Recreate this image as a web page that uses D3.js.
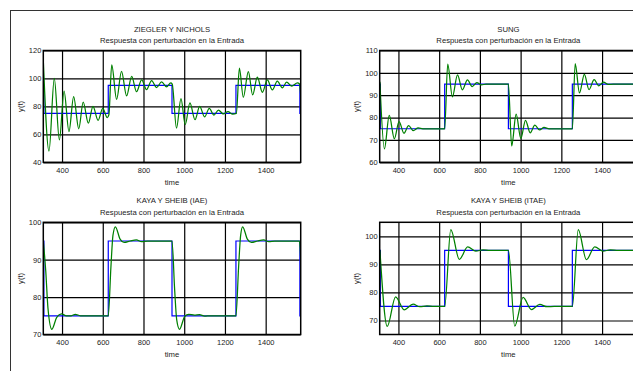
<!DOCTYPE html>
<html>
<head>
<meta charset="utf-8">
<script src="https://cdn.jsdelivr.net/npm/d3@7"></script>
<style>
  body { margin: 0; background: #fff; }
  svg { display: block; font-family: 'Liberation Sans', Arial, sans-serif; }
</style>
</head>
<body>
<div id="chart"></div>
<script>
// shared time axis
const timeDomain = [308, 1572];
const timeTicks = [400, 600, 800, 1000, 1200, 1400];

// setpoint (blue square wave)
const stepTimes = [308, 311, 627, 940, 1254, 1568, 1572];
const stepLevels = [95, 75, 95, 75, 95, 75, 75];

// ZIEGLER Y NICHOLS response
const znTime = [308, 336, 362, 387, 410, 434, 457, 482, 504, 529, 552, 577, 600, 622, 630, 644, 668, 692, 717, 742, 766, 791, 815, 840, 864, 889, 913, 934, 941, 962, 984, 1005, 1028, 1053, 1076, 1100, 1123, 1146, 1168, 1192, 1215, 1238, 1256, 1271, 1290, 1315, 1336, 1359, 1384, 1408, 1433, 1457, 1482, 1503, 1528, 1556, 1566, 1572];
const znY = [113, 48, 100, 56, 91, 62, 87, 64, 83, 68, 80, 70, 78.6, 72, 74, 109.7, 85, 105, 87.5, 101.5, 90.5, 99, 92, 98.5, 93.5, 97.5, 94, 96.8, 96, 64.4, 85.5, 67, 82.5, 70.5, 80, 72.5, 78.6, 73.8, 77.4, 74.6, 76.2, 74.5, 75, 107.3, 86.5, 104.9, 88.2, 100.9, 90.1, 98.9, 91.8, 98, 93.3, 97.3, 94.5, 96.8, 96, 88];
const znTicks = [40, 60, 80, 100, 120];

// SUNG response
const sungTime = [309, 331, 355, 380, 403, 427, 450, 473, 497, 520, 627, 642, 665, 690, 714, 739, 762, 785, 808, 830, 940, 956, 978, 1001, 1024, 1047, 1070, 1093, 1115, 1140, 1254, 1268, 1289, 1313, 1336, 1361, 1384, 1407, 1430, 1455, 1572];
const sungY = [96, 66, 81, 70.5, 78.2, 73, 76.4, 74.2, 75.4, 75, 75, 103.9, 89.3, 99.1, 92.4, 96.9, 93.9, 95.6, 94.6, 95, 95, 67.3, 81.5, 70.7, 78.8, 73.2, 76.6, 74.5, 75.6, 75, 75, 104.1, 91, 99.3, 92.5, 97, 94.2, 95.9, 94.8, 95, 95];
const sungTicks = [60, 70, 80, 90, 100, 110];

// KAYA Y SHEIB (IAE) response
const iaeTime = [308, 320, 331, 350, 374, 397, 422, 445, 465, 490, 627, 640, 650, 662, 685, 705, 735, 765, 790, 820, 940, 953, 963, 977, 1002, 1022, 1050, 1075, 1100, 1130, 1254, 1267, 1277, 1287, 1310, 1330, 1360, 1390, 1415, 1445, 1566, 1572];
const iaeY = [95, 87, 77, 71.4, 74.6, 75.5, 75, 75, 75.4, 75, 75, 88, 96.5, 98.8, 95.5, 94.6, 95, 95.3, 94.8, 95, 95, 82, 74, 71.4, 74.8, 75.4, 75.2, 75.3, 74.9, 75, 75, 88, 96.5, 98.8, 95.5, 94.6, 95, 95.3, 94.8, 95, 95, 90];
const iaeTicks = [70, 80, 90, 100];

// KAYA Y SHEIB (ITAE) response
const itaeTime = [309, 345, 386, 428, 472, 505, 540, 575, 627, 657, 699, 740, 780, 815, 850, 940, 971, 1012, 1053, 1094, 1130, 1165, 1254, 1283, 1323, 1364, 1405, 1440, 1480, 1572];
const itaeY = [95, 67.9, 78.4, 73.8, 75.8, 74.9, 75.2, 75, 75, 102.4, 91.8, 96.2, 94.7, 95.2, 95, 95, 68, 78.2, 73.9, 75.7, 74.9, 75, 75, 102.4, 91.7, 96.2, 94.7, 95.2, 95, 95];
const itaeTicks = [70, 80, 90, 100];

const subtitle = 'Respuesta con perturbación en la Entrada';

const svg = d3.select('#chart')
  .append('svg')
    .attr('width', 633)
    .attr('height', 371);

// figure frame
svg.append('rect')
  .attr('x', 10.5)
  .attr('y', 10.5)
  .attr('width', 700)
  .attr('height', 400)
  .attr('fill', 'none')
  .attr('stroke', '#333')
  .attr('stroke-width', 1);

function drawPanel(p) {
  const w = 257.4;
  const h = p.height;

  const x = d3.scaleLinear().domain(timeDomain).range([0, w]);
  const y = d3.scaleLinear().domain(p.yDomain).range([h, 0]);

  const g = svg.append('g')
    .attr('transform', `translate(${p.left}, ${p.top})`);

  g.append('clipPath')
    .attr('id', `clip-${p.id}`)
    .append('rect')
      .attr('width', w)
      .attr('height', h);

  // x grid + labels
  g.append('g')
    .attr('transform', `translate(0, ${h})`)
    .call(d3.axisBottom(x).tickValues(timeTicks).tickSize(-h).tickPadding(5.5).tickFormat(d3.format('d')))
    .call((a) => a.select('.domain').remove())
    .call((a) => a.selectAll('line').attr('stroke', '#000').attr('stroke-width', 1.2))
    .call((a) => a.selectAll('text').attr('fill', '#222'))
    .attr('font-family', null)
    .attr('font-size', 7.5);

  // y grid + labels
  g.append('g')
    .call(d3.axisLeft(y).tickValues(p.yTicks).tickSize(-w).tickPadding(2))
    .call((a) => a.select('.domain').remove())
    .call((a) => a.selectAll('line').attr('stroke', '#000').attr('stroke-width', 1.2))
    .call((a) => a.selectAll('text').attr('fill', '#222'))
    .attr('font-family', null)
    .attr('font-size', 7.5);

  const setLine = d3.line()
    .x((d) => x(d[0]))
    .y((d) => y(d[1]))
    .curve(d3.curveStepAfter);

  const respLine = d3.line()
    .x((d) => x(d[0]))
    .y((d) => y(d[1]))
    .curve(d3.curveMonotoneX);

  g.append('path')
    .datum(d3.zip(stepTimes, stepLevels))
    .attr('clip-path', `url(#clip-${p.id})`)
    .attr('fill', 'none')
    .attr('stroke', '#0000ff')
    .attr('stroke-width', 1.2)
    .attr('d', setLine);

  g.append('path')
    .datum(d3.zip(p.times, p.values))
    .attr('clip-path', `url(#clip-${p.id})`)
    .attr('fill', 'none')
    .attr('stroke', '#008000')
    .attr('stroke-width', 1.25)
    .attr('d', respLine);

  g.append('rect')
    .attr('width', w)
    .attr('height', h)
    .attr('fill', 'none')
    .attr('stroke', '#000')
    .attr('stroke-width', 1.5);

  g.append('text')
    .attr('x', w / 2)
    .attr('y', -19)
    .attr('text-anchor', 'middle')
    .attr('font-size', 7.7)
    .attr('fill', '#222')
    .text(p.title);

  g.append('text')
    .attr('x', w / 2)
    .attr('y', -7.5)
    .attr('text-anchor', 'middle')
    .attr('font-size', 7.7)
    .attr('fill', '#222')
    .text(subtitle);

  g.append('text')
    .attr('x', w / 2)
    .attr('y', h + 23)
    .attr('text-anchor', 'middle')
    .attr('font-size', 7.7)
    .attr('fill', '#222')
    .text('time');

  g.append('text')
    .attr('transform', `translate(-20.5, ${h / 2}) rotate(-90)`)
    .attr('text-anchor', 'middle')
    .attr('font-size', 7.7)
    .attr('fill', '#222')
    .text('y(t)');
}

drawPanel({ id: 'zn', left: 43.3, top: 50.5, height: 111.8, yDomain: [40, 120], yTicks: znTicks, times: znTime, values: znY, title: 'ZIEGLER Y NICHOLS' });
drawPanel({ id: 'sung', left: 379.7, top: 50.5, height: 111.8, yDomain: [60, 110], yTicks: sungTicks, times: sungTime, values: sungY, title: 'SUNG' });
drawPanel({ id: 'iae', left: 43.3, top: 222.3, height: 112.2, yDomain: [70, 100], yTicks: iaeTicks, times: iaeTime, values: iaeY, title: 'KAYA Y SHEIB (IAE)' });
drawPanel({ id: 'itae', left: 379.7, top: 222.3, height: 112.2, yDomain: [65, 105], yTicks: itaeTicks, times: itaeTime, values: itaeY, title: 'KAYA Y SHEIB (ITAE)' });
</script>
</body>
</html>
